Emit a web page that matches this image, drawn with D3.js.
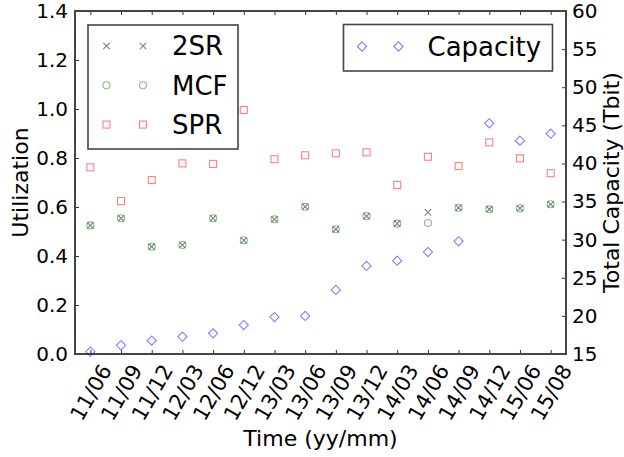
<!DOCTYPE html>
<html>
<head>
<meta charset="utf-8">
<script src="https://cdn.jsdelivr.net/npm/d3@7"></script>
<style>
    body { margin: 0; background: #fff; }
    svg { display: block; font-family: "DejaVu Sans", sans-serif; }
    .axis path { display: none; }
    .axis line { stroke: #333; stroke-width: 1; }
    .axis text { fill: #000; font-size: 20px; font-family: "DejaVu Sans", sans-serif; }
    .x-labels text { font-size: 21px; }
</style>
</head>
<body>
<div id="chart"></div>
<script>
// Quarter labels on the x axis
const periods = ['11/06', '11/09', '11/12', '12/03', '12/06', '12/12', '13/03', '13/06',
    '13/09', '13/12', '14/03', '14/06', '14/09', '14/12', '15/06', '15/08'];

// Utilization per scheme (left axis)
const twoSR = [0.525, 0.554, 0.438, 0.445, 0.554, 0.464, 0.550, 0.601,
    0.509, 0.563, 0.532, 0.578, 0.597, 0.591, 0.595, 0.611];
const mcf = [0.525, 0.554, 0.438, 0.445, 0.554, 0.464, 0.550, 0.601,
    0.509, 0.563, 0.532, 0.535, 0.597, 0.591, 0.595, 0.611];
const spr = [0.762, 0.624, 0.710, 0.778, 0.776, 0.996, 0.795, 0.811,
    0.819, 0.823, 0.690, 0.805, 0.767, 0.864, 0.799, 0.738];

// Total capacity in Tbit (right axis)
const capacity = [15.3, 16.14, 16.75, 17.27, 17.71, 18.8, 19.85, 19.99,
    23.4, 26.55, 27.24, 28.38, 29.79, 45.27, 42.99, 43.9];

const utilTicks = [0, 0.2, 0.4, 0.6, 0.8, 1.0, 1.2, 1.4];
const capTicks = [15, 20, 25, 30, 35, 40, 45, 50, 55, 60];

const W = 624, H = 457;
const plot = { left: 75, right: 566, top: 11, bottom: 354 };

const svg = d3.select('#chart').append('svg')
    .attr('width', W)
    .attr('height', H);

const x = d3.scaleLinear().domain([-0.5, periods.length - 0.5]).range([plot.left, plot.right]);
const yL = d3.scaleLinear().domain([0, 1.4]).range([plot.bottom, plot.top]);
const yR = d3.scaleLinear().domain([15, 60]).range([plot.bottom, plot.top]);

const idx = d3.range(periods.length);

// Axes (ticks point inward, like matplotlib classic)
svg.append('g')
    .attr('class', 'axis')
    .attr('transform', `translate(${plot.left},0)`)
    .call(d3.axisLeft(yL).tickValues(utilTicks).tickFormat(d3.format('.1f'))
        .tickSizeInner(-4).tickSizeOuter(0).tickPadding(7));

svg.append('g')
    .attr('class', 'axis')
    .attr('transform', `translate(${plot.right},0)`)
    .call(d3.axisRight(yR).tickValues(capTicks).tickFormat(d3.format('d'))
        .tickSizeInner(-4).tickSizeOuter(0).tickPadding(6));

svg.append('g')
    .attr('class', 'axis')
    .attr('transform', `translate(0,${plot.top})`)
    .call(d3.axisTop(x).tickValues(idx).tickFormat('').tickSizeInner(-4).tickSizeOuter(0));

const xAxis = svg.append('g')
    .attr('class', 'axis x-labels')
    .attr('transform', `translate(0,${plot.bottom})`)
    .call(d3.axisBottom(x).tickValues(idx).tickFormat(i => periods[i])
        .tickSizeInner(-4).tickSizeOuter(0));

// rotate the labels 60deg, top-centre of rotated box under the tick
const labelTop = 7;
const rad = Math.PI / 3;
xAxis.selectAll('.tick text').each(function () {
    const t = d3.select(this);
    const w = this.getComputedTextLength();
    const h = 21;
    const boxH = w * Math.sin(rad) + h * Math.cos(rad);
    t.attr('y', null).attr('dy', '0.35em')
        .attr('text-anchor', 'middle')
        .attr('transform', `translate(0,${labelTop + boxH / 2}) rotate(-60)`);
});

// Frame
svg.append('rect')
    .attr('x', plot.left).attr('y', plot.top)
    .attr('width', plot.right - plot.left).attr('height', plot.bottom - plot.top)
    .attr('fill', 'none').attr('stroke', '#444').attr('stroke-width', 2);

// Marker helpers
function drawMarker(g, type, cx, cy, color) {
    if (type === 'x') {
        const s = 3.2;
        g.append('path')
            .attr('d', `M${cx - s},${cy - s}L${cx + s},${cy + s}M${cx - s},${cy + s}L${cx + s},${cy - s}`)
            .attr('stroke', color).attr('stroke-opacity', 0.5).attr('stroke-width', 1.1).attr('fill', 'none');
    } else if (type === 'o') {
        g.append('circle').attr('cx', cx).attr('cy', cy).attr('r', 3.5)
            .attr('stroke', color).attr('stroke-opacity', 0.5).attr('stroke-width', 1.1).attr('fill', 'none');
    } else if (type === 's') {
        g.append('rect').attr('x', cx - 3.5).attr('y', cy - 3.5).attr('width', 7).attr('height', 7)
            .attr('stroke', color).attr('stroke-opacity', 0.5).attr('stroke-width', 1.1).attr('fill', 'none');
    } else if (type === 'D') {
        const s = 4.6;
        g.append('path')
            .attr('d', `M${cx},${cy - s}L${cx + s},${cy}L${cx},${cy + s}L${cx - s},${cy}Z`)
            .attr('stroke', color).attr('stroke-opacity', 0.5).attr('stroke-width', 1.1).attr('fill', 'none');
    }
}

const series = [
    { name: '2SR', values: twoSR, marker: 'x', color: '#000000', scale: yL },
    { name: 'MCF', values: mcf, marker: 'o', color: '#008000', scale: yL },
    { name: 'SPR', values: spr, marker: 's', color: '#ff0000', scale: yL },
    { name: 'Capacity', values: capacity, marker: 'D', color: '#0000ff', scale: yR }
];

const marks = svg.append('g');
series.forEach(s => {
    s.values.forEach((v, i) => drawMarker(marks, s.marker, x(i), s.scale(v), s.color));
});

// Legends
function legend(items, box) {
    const g = svg.append('g');
    g.append('rect')
        .attr('x', box.x).attr('y', box.y).attr('width', box.w).attr('height', box.h)
        .attr('fill', '#fff').attr('stroke', '#444').attr('stroke-width', 1.6);
    items.forEach((s, k) => {
        const cy = box.y + box.first + k * box.step;
        drawMarker(g, s.marker, box.x + 18.5, cy, s.color);
        drawMarker(g, s.marker, box.x + 55, cy, s.color);
        g.append('text')
            .attr('x', box.x + 84).attr('y', cy).attr('dy', '0.36em')
            .attr('font-size', 26).attr('fill', '#000')
            .text(s.name);
    });
}
legend(series.slice(0, 3), { x: 88, y: 25, w: 150, h: 124, first: 21, step: 39.3 });
legend(series.slice(3), { x: 343.5, y: 24.5, w: 209, h: 46.5, first: 22, step: 0 });

// Axis titles
svg.append('text')
    .attr('transform', `translate(20,${(plot.top + plot.bottom) / 2}) rotate(-90)`)
    .attr('text-anchor', 'middle').attr('dy', '0.35em')
    .attr('font-size', 22).attr('fill', '#000')
    .text('Utilization');

svg.append('text')
    .attr('transform', `translate(611,${(plot.top + plot.bottom) / 2}) rotate(-90)`)
    .attr('text-anchor', 'middle').attr('dy', '0.35em')
    .attr('font-size', 22).attr('fill', '#000')
    .text('Total Capacity (Tbit)');

svg.append('text')
    .attr('x', (plot.left + plot.right) / 2).attr('y', 446)
    .attr('text-anchor', 'middle')
    .attr('font-size', 22).attr('fill', '#000')
    .text('Time (yy/mm)');
</script>
</body>
</html>
